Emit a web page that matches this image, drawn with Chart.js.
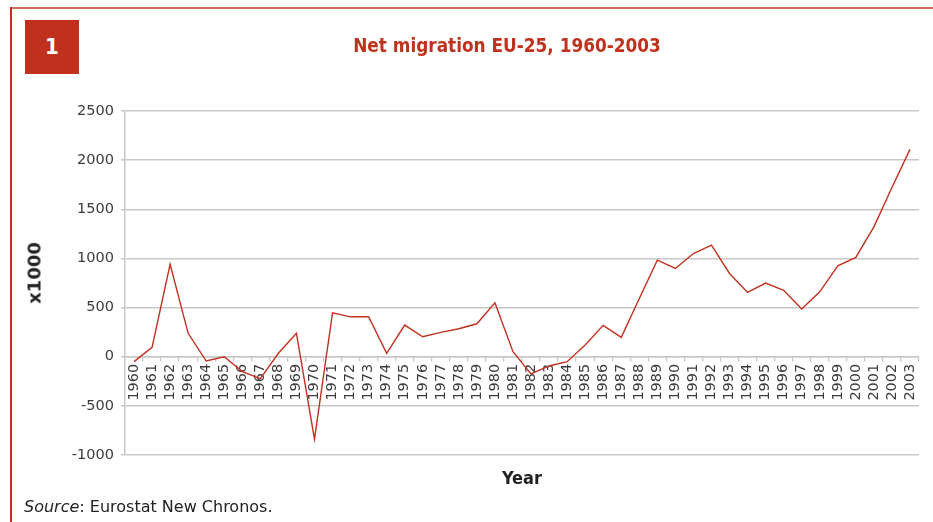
<!DOCTYPE html>
<html>
<head>
<meta charset="utf-8">
<script src="https://cdn.jsdelivr.net/npm/chart.js@4/dist/chart.umd.min.js"></script>
<style>
  html, body { margin: 0; padding: 0; background: #fff; }
  #wrap { position: relative; width: 933px; height: 522px; overflow: hidden; font-family: "DejaVu Sans", sans-serif; }
  #chart { position: absolute; left: 0; top: 0; }
  .frame-top { position: absolute; left: 10px; top: 7px; width: 923px; height: 2px; background: #d4705f; }
  .frame-left { position: absolute; left: 10px; top: 7px; width: 2px; height: 515px; background: #c4301f; }
  .badge { position: absolute; left: 25px; top: 20px; width: 54px; height: 54px; background: #c0301c;
           color: #fff; font: bold 22px "DejaVu Sans Condensed", "DejaVu Sans", sans-serif; line-height: 54px; text-align: center; }
  .title { position: absolute; left: 507px; top: 45px; transform: translate(-50%, -50%) scaleX(0.94); color: #c0321e;
           font: bold 20px "Liberation Sans Narrow", "DejaVu Sans Condensed", sans-serif; white-space: nowrap; }
  .ytitle { position: absolute; left: 34px; top: 273px; transform: translate(-50%, -50%) rotate(-90deg);
            font: bold 18px "DejaVu Sans", sans-serif; color: #222; white-space: nowrap; }
  .xtitle { position: absolute; left: 522px; top: 477px; transform: translate(-50%, -50%);
            font: bold 18px "DejaVu Sans Condensed", "DejaVu Sans", sans-serif; color: #222; white-space: nowrap; }
  .source { position: absolute; left: 24px; top: 497px; font: 16px "DejaVu Sans", sans-serif; color: #222; white-space: nowrap; }
</style>
</head>
<body>
<div id="wrap">
  <canvas id="chart" width="933" height="522"></canvas>
  <div class="frame-top"></div>
  <div class="frame-left"></div>
  <div class="badge">1</div>
  <div class="title">Net migration EU-25, 1960-2003</div>
  <div class="ytitle">x1000</div>
  <div class="xtitle">Year</div>
  <div class="source"><i>Source</i>: Eurostat New Chronos.</div>
</div>
<script>
// Years on the category axis
const years = [
  '1960','1961','1962','1963','1964','1965','1966','1967','1968','1969',
  '1970','1971','1972','1973','1974','1975','1976','1977','1978','1979',
  '1980','1981','1982','1983','1984','1985','1986','1987','1988','1989',
  '1990','1991','1992','1993','1994','1995','1996','1997','1998','1999',
  '2000','2001','2002','2003'
];

// Net migration, thousands of persons
const netMigration = [
  -50, 95, 940, 238, -44, 0, -152, -223, 35, 238,
  -839, 447, 406, 406, 34, 322, 203, 248, 285, 335,
  549, 51, -176, -94, -51, 119, 319, 197, 593, 982,
  898, 1050, 1135, 847, 654, 749, 675, 485, 660, 925,
  1010, 1321, 1721, 2110
];

// Value axis range and step
const yMin = -1000;
const yMax = 2500;
const yStep = 500;

const gridColor = '#c8c8c8';
const tickColor = '#3c3c3c';
const tickFont = { family: 'DejaVu Sans', size: 14.5 };

new Chart(document.getElementById('chart'), {
  type: 'line',
  data: {
    labels: years,
    datasets: [{
      data: netMigration,
      borderColor: '#c4301f',
      borderWidth: 1.4,
      pointRadius: 0,
      tension: 0,
      fill: false
    }]
  },
  options: {
    responsive: false,
    animation: false,
    layout: { padding: { left: 60, right: 14, top: 111, bottom: 67 } },
    plugins: { legend: { display: false }, tooltip: { enabled: false }, title: { display: false } },
    scales: {
      x: {
        type: 'category',
        position: { y: 0 },
        offset: true,
        grid: { display: true, drawOnChartArea: false, drawTicks: true, tickLength: 4, color: gridColor, lineWidth: 1.3, offset: true },
        border: { display: true, color: gridColor, width: 1.5 },
        ticks: { autoSkip: false, minRotation: 90, maxRotation: 90, padding: 3, color: tickColor, font: tickFont }
      },
      y: {
        min: yMin,
        max: yMax,
        afterFit: (scale) => { scale.width = 65; },
        grid: { color: gridColor, lineWidth: 1.5, tickLength: 4 },
        border: { display: true, color: gridColor, width: 1.5 },
        ticks: { stepSize: yStep, padding: 7, color: tickColor, font: tickFont, callback: (v) => String(v) }
      }
    }
  }
});
</script>
</body>
</html>
